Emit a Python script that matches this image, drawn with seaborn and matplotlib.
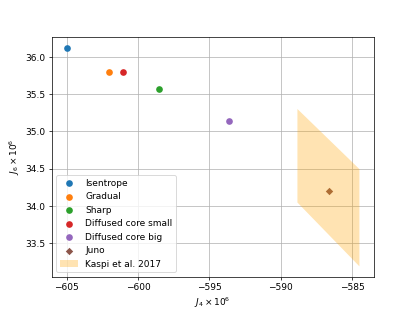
import numpy as np
import pandas as pd
import seaborn as sns
import matplotlib
matplotlib.use('Agg')
import matplotlib.pyplot as plt

# J4, J6 (x 1e6) for the interior models
modelos = ['Isentrope', 'Gradual', 'Sharp', 'Diffused core small', 'Diffused core big']
j4_modelos = [-605.0, -602.02, -598.52, -601.01, -593.62]
j6_modelos = [36.125, 35.80, 35.571, 35.80, 35.137]

# Juno measurement
j4_juno = [-586.61]
j6_juno = [34.201]

# Kaspi et al. 2017 region
j4_kaspi = [-588.87, -584.53]
j6_kaspi_baixo = [34.05, 33.19]
j6_kaspi_alto = [35.31, 34.50]

cores = sns.color_palette('tab10')

fig = plt.figure(figsize=(6.4, 4.8), dpi=64.85)
ax = plt.gca()

for i, nome in enumerate(modelos):
    sns.scatterplot(x=[j4_modelos[i]], y=[j6_modelos[i]], color=cores[i],
                    s=55, linewidth=0, label=nome, ax=ax)

sns.scatterplot(x=j4_juno, y=j6_juno, color=cores[5], marker='D',
                s=34, linewidth=0, label='Juno', ax=ax)

ax.fill_between(j4_kaspi, j6_kaspi_baixo, j6_kaspi_alto, color='orange',
                alpha=0.3, linewidth=0, label='Kaspi et al. 2017')

ax.set_xticks([-605, -600, -595, -590, -585])
ax.set_yticks([33.5, 34.0, 34.5, 35.0, 35.5, 36.0])
ax.set_xlabel(r'$J_4 \times 10^6$')
ax.set_ylabel(r'$J_6 \times 10^6$')
ax.grid(True, color='#b0b0b0', linewidth=0.8)
ax.set_axisbelow(True)
ax.legend(loc='lower left')

plt.savefig('out.png', dpi=64.85)
